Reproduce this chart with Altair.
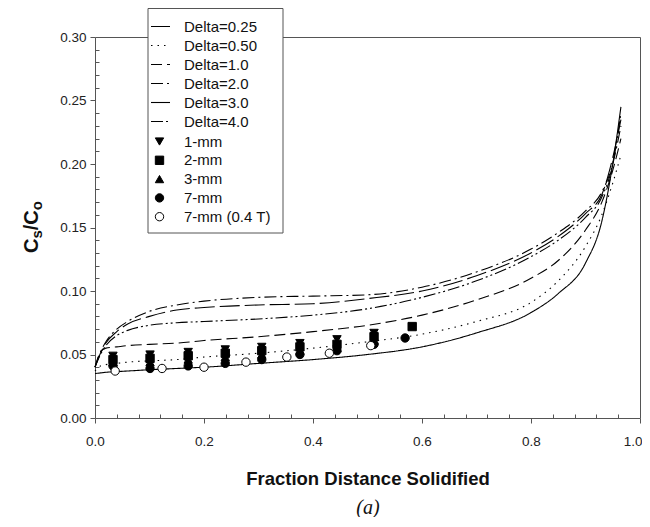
import altair as alt
import pandas as pd

# ---------------- data ----------------
frac = [0.0, 0.01, 0.02, 0.04, 0.06, 0.10, 0.15, 0.20, 0.30, 0.40, 0.50,
        0.60, 0.70, 0.80, 0.85, 0.90, 0.93, 0.95, 0.965]
delta_names = ["Delta=0.25", "Delta=0.50", "Delta=1.0", "Delta=2.0", "Delta=3.0", "Delta=4.0"]
d025 = [0.035, 0.0355, 0.036, 0.0365, 0.037, 0.038, 0.039, 0.040, 0.043, 0.046, 0.050,
        0.056, 0.067, 0.083, 0.098, 0.122, 0.155, 0.200, 0.245]
d050 = [0.037, 0.041, 0.042, 0.043, 0.044, 0.045, 0.046, 0.048, 0.051, 0.055, 0.060,
        0.066, 0.076, 0.091, 0.108, 0.135, 0.160, 0.185, 0.207]
d10 = [0.040, 0.052, 0.055, 0.056, 0.057, 0.058, 0.059, 0.061, 0.064, 0.068, 0.073,
       0.081, 0.093, 0.110, 0.124, 0.148, 0.170, 0.195, 0.220]
d20 = [0.040, 0.052, 0.060, 0.070, 0.076, 0.084, 0.089, 0.092, 0.095, 0.096, 0.097,
       0.103, 0.115, 0.133, 0.146, 0.163, 0.178, 0.200, 0.230]
d30 = [0.040, 0.051, 0.059, 0.068, 0.074, 0.080, 0.085, 0.087, 0.089, 0.090, 0.094,
       0.100, 0.112, 0.130, 0.143, 0.161, 0.176, 0.205, 0.235]
d40 = [0.040, 0.050, 0.057, 0.065, 0.069, 0.073, 0.075, 0.076, 0.078, 0.081, 0.086,
       0.095, 0.108, 0.127, 0.140, 0.158, 0.174, 0.200, 0.240]
delta_values = [d025, d050, d10, d20, d30, d40]

series_names = ["1-mm", "2-mm", "3-mm", "7-mm", "7-mm (0.4 T)"]
x_1mm = [0.033, 0.101, 0.171, 0.239, 0.306, 0.376, 0.444, 0.512]
v_1mm = [0.049, 0.050, 0.052, 0.054, 0.056, 0.059, 0.062, 0.067]
x_2mm = [0.033, 0.101, 0.171, 0.239, 0.306, 0.376, 0.444, 0.512, 0.582]
v_2mm = [0.046, 0.047, 0.049, 0.051, 0.053, 0.056, 0.058, 0.064, 0.072]
x_3mm = [0.033, 0.101, 0.171, 0.239, 0.306, 0.376, 0.444, 0.512]
v_3mm = [0.044, 0.044, 0.046, 0.048, 0.050, 0.053, 0.055, 0.061]
x_7mm = [0.033, 0.101, 0.171, 0.239, 0.306, 0.376, 0.444, 0.512, 0.569]
v_7mm = [0.041, 0.039, 0.041, 0.043, 0.046, 0.050, 0.053, 0.058, 0.063]
x_7mm04 = [0.037, 0.123, 0.200, 0.277, 0.352, 0.430, 0.506]
v_7mm04 = [0.037, 0.039, 0.040, 0.044, 0.048, 0.051, 0.057]
series_x = [x_1mm, x_2mm, x_3mm, x_7mm, x_7mm04]
series_v = [v_1mm, v_2mm, v_3mm, v_7mm, v_7mm04]

x_ticks = [0.0, 0.2, 0.4, 0.6, 0.8, 1.0]
x_minor = [0.04, 0.08, 0.12, 0.16, 0.24, 0.28, 0.32, 0.36, 0.44, 0.48, 0.52, 0.56,
           0.64, 0.68, 0.72, 0.76, 0.84, 0.88, 0.92, 0.96]
y_ticks = [0.0, 0.05, 0.10, 0.15, 0.20, 0.25, 0.30]
y_minor = [0.01, 0.02, 0.03, 0.04, 0.06, 0.07, 0.08, 0.09, 0.11, 0.12, 0.13, 0.14,
           0.16, 0.17, 0.18, 0.19, 0.21, 0.22, 0.23, 0.24, 0.26, 0.27, 0.28, 0.29]

# ---------------- tables ----------------
curve_rows = []
for name, vals in zip(delta_names, delta_values):
    for i, (fx, fv) in enumerate(zip(frac, vals)):
        curve_rows.append({"delta": name, "x": fx, "v": fv, "i": i})
curves = pd.DataFrame(curve_rows)

pt_rows = []
for k, (name, xs, vs) in enumerate(zip(series_names, series_x, series_v)):
    for fx, fv in zip(xs, vs):
        pt_rows.append({"series": name, "x": fx, "v": fv, "k": k})
points = pd.DataFrame(pt_rows)

FONT = "Liberation Sans"
AX = "#555555"

xscale = alt.Scale(domain=[0, 1], nice=False, zero=False)
yscale = alt.Scale(domain=[0, 0.3], nice=False, zero=False)

x_major_axis = alt.Axis(values=x_ticks, format=".1f", orient="bottom", domain=False, grid=False,
                        tickSize=5, tickColor=AX, labelFontSize=13.5, labelPadding=11,
                        labelColor="#222222", labelFont=FONT, labelFlush=False,
                        labelAlign={"condition": {"test": "datum.value >= 0.99", "value": "right"},
                                    "value": "center"},
                        labelOffset={"condition": {"test": "datum.value >= 0.99", "value": 2},
                                     "value": 0},
                        title="Fraction Distance Solidified", titleFont=FONT, titleFontSize=18.5,
                        titleFontWeight="bold", titleColor="#111111", titlePadding=22)
y_major_axis = alt.Axis(values=y_ticks, format=".2f", orient="left", domain=False, grid=False,
                        tickSize=5, tickColor=AX, labelFontSize=13.5, labelPadding=4,
                        labelColor="#222222", labelFont=FONT, labelFlush=False, title=None)
x_minor_axis = alt.Axis(values=x_minor, orient="bottom", domain=False, grid=False, labels=False,
                        tickSize=4, tickColor=AX, offset=-4, title=None)
y_minor_axis = alt.Axis(values=y_minor, orient="left", domain=False, grid=False, labels=False,
                        tickSize=4, tickColor=AX, offset=-4, title=None)

dash_range = [[1, 0], [1.5, 5], [11, 5], [12, 4, 2, 4], [20, 5], [12, 3, 2, 3, 2, 3]]

lines = alt.Chart(curves).mark_line(color="black", strokeWidth=1.1, interpolate="monotone").encode(
    x=alt.X("x:Q", scale=xscale, axis=x_major_axis),
    y=alt.Y("v:Q", scale=yscale, axis=y_major_axis),
    order="i:Q",
    strokeDash=alt.StrokeDash("delta:N", scale=alt.Scale(domain=delta_names, range=dash_range),
                              legend=alt.Legend(orient="none", legendX=55, legendY=-21, title=None,
                                                symbolType="stroke", symbolSize=361,
                                                symbolStrokeWidth=1.1, symbolStrokeColor="black",
                                                labelFontSize=15, labelFont=FONT, labelColor="#111111",
                                                labelOffset=13, rowPadding=0, padding=0)),
)

pt_legend = alt.Legend(orient="none", legendX=57, legendY=97, title=None, symbolSize=70,
                       symbolStrokeColor="black", symbolStrokeWidth=1,
                       labelFontSize=15, labelFont=FONT, labelColor="#111111",
                       labelOffset=17, rowPadding=2.8, padding=0)

pts = alt.Chart(points).mark_point(size=70, filled=False, strokeWidth=1, opacity=1).encode(
    x=alt.X("x:Q", scale=xscale, axis=x_minor_axis),
    y=alt.Y("v:Q", scale=yscale, axis=y_minor_axis),
    order="k:Q",
    shape=alt.Shape("series:N", scale=alt.Scale(domain=series_names,
                    range=["triangle-down", "square", "triangle-up", "circle", "circle"]), legend=pt_legend),
    fill=alt.Fill("series:N", scale=alt.Scale(domain=series_names,
                  range=["black", "black", "black", "black", "white"]), legend=pt_legend),
    stroke=alt.Stroke("series:N", scale=alt.Scale(domain=series_names,
                      range=["black", "black", "black", "black", "black"]), legend=pt_legend),
)

one = pd.DataFrame({"a": [0]})

frame = alt.Chart(one).mark_rect(fill="white", stroke=AX, strokeWidth=1).encode(
    x=alt.value(53), x2=alt.value(188), y=alt.value(-28.5), y2=alt.value(196))


def ytitle(txt, xpos, ypos, size):
    return alt.Chart(one).mark_text(angle=270, align="left", baseline="alphabetic", font=FONT,
                                    fontWeight="bold", fontSize=size, color="#111111").encode(
        x=alt.value(xpos), y=alt.value(ypos), text=alt.value(txt))


t1 = ytitle("C", -57, 216, 20)
t2 = ytitle("s", -53, 201.6, 15)
t3 = ytitle("/", -57, 193.3, 20)
t4 = ytitle("C", -57, 187.7, 20)
t5 = ytitle("o", -53, 173.3, 15)

tag = alt.Chart(one).mark_text(align="center", baseline="middle", font="Liberation Serif",
                               fontStyle="italic", fontSize=20, color="#111111").encode(
    x=alt.value(273), y=alt.value(471), text=alt.value("(a)"))

chart = alt.layer(lines, pts, frame, t1, t2, t3, t4, t5, tag).resolve_scale(
    x="shared", y="shared").resolve_axis(x="independent", y="independent").properties(
    width=545, height=381, autosize=alt.AutoSizeParams(type="none"),
    padding={"left": 87, "top": 29, "right": 2, "bottom": 99}, background="white",
).configure_view(stroke=AX, strokeWidth=1)

chart.save("out.html", embed_options={"renderer": "svg", "actions": False})
